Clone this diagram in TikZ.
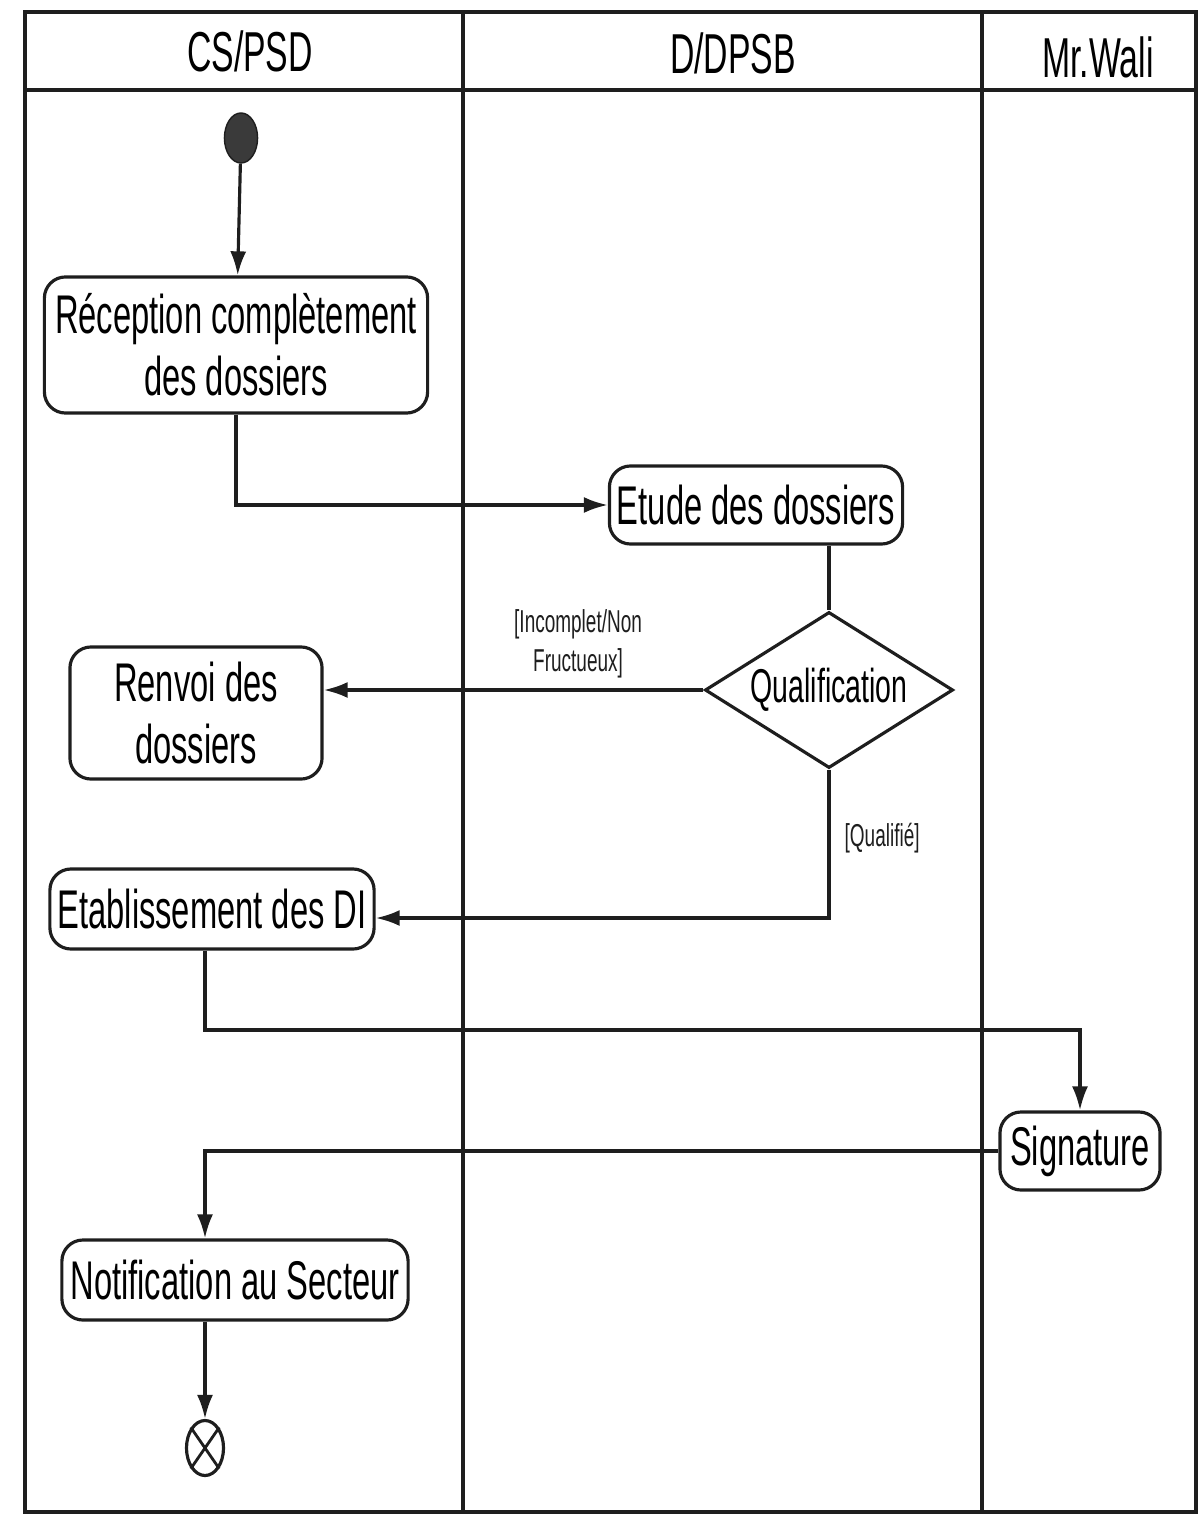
\documentclass[tikz,border=0pt]{standalone}
\usepackage{fontspec}
\setmainfont[FakeStretch=0.6]{Liberation Sans}
\usepackage{tikz}
\usetikzlibrary{shapes,arrows.meta,calc}
\definecolor{encre}{HTML}{1E1E1E}
\definecolor{puce}{HTML}{3A3A3A}
\tikzset{act/.style={
    draw=encre,
    line width=0.9pt,
    rounded corners=6pt,
    inner sep=0pt,
    align=center,
    font=\fontsize{15.5}{17.6}\selectfont}}
\tikzset{choix/.style={
    draw=encre,
    line width=0.9pt,
    diamond,
    aspect=1.59,
    inner sep=0pt,
    font=\fontsize{13.5}{17}\selectfont}}
\tikzset{flow/.style={
    -{Latex[length=2.4mm,width=1.6mm]},
    line width=0.9pt,
    encre}}
\tikzset{lane/.style={
    line width=1.1pt,
    encre}}
\tikzset{head/.style={
    font=\fontsize{16}{18}\selectfont}}
\tikzset{garde/.style={
    align=center,
    inner sep=1pt,
    font=\fontsize{9}{11}\selectfont}}

\begin{document}
\begin{tikzpicture}[x=0.01cm, y=-0.01cm]

\useasboundingbox (0,0) rectangle (1202,1516);

\coordinate (S) at (241,138);
\coordinate (R) at (236,345);
\coordinate (E) at (756,505);
\coordinate (Q) at (829,690);
\coordinate (V) at (196,713);
\coordinate (D) at (212,909);
\coordinate (G) at (1080,1151);
\coordinate (N) at (235,1280);
\coordinate (F) at (205,1448);
\coordinate (J) at (0,1030);

\draw[lane] (25,12) rectangle (1196,1512);
\draw[lane] (25,90) -- (1196,90);
\draw[lane] (463,12) -- (463,1512);
\draw[lane] (982,12) -- (982,1512);

\node[head] (cs) at (250,51) {CS/PSD};
\node[head] (dpsb) at (733,53) {D/DPSB};
\node[head] (wali) at (1098,57) {Mr.Wali};

\node[ellipse,
  fill=puce,
  draw=encre,
  minimum width=0.31cm,
  minimum height=0.5cm] (debut) at (S) {};

\node[act,
  minimum width=3.83cm,
  minimum height=1.36cm] (recep) at (R) {Réception complètement\\des dossiers};

\node[act,
  minimum width=2.93cm,
  minimum height=0.78cm] (etude) at (E) {Etude des dossiers};

\node[choix,
  minimum width=2.48cm,
  minimum height=1.56cm] (qualif) at (Q) {Qualification};

\node[act,
  minimum width=2.52cm,
  minimum height=1.32cm] (renvoi) at (V) {Renvoi des\\dossiers};

\node[act,
  minimum width=3.24cm,
  minimum height=0.8cm] (etab) at (D) {Etablissement des DI};

\node[act,
  minimum width=1.6cm,
  minimum height=0.78cm] (sign) at (G) {Signature};

\node[act,
  minimum width=3.46cm,
  minimum height=0.8cm] (notif) at (N) {Notification au Secteur};

\node[ellipse,
  draw=encre,
  line width=0.9pt,
  minimum width=0.37cm,
  minimum height=0.55cm] (fin) at (F) {};
\draw[encre, line width=0.8pt] (fin.north west) -- (fin.south east)
  (fin.north east) -- (fin.south west);

\draw[flow] (debut) -- (recep);
\draw[flow] (recep.south) |- (etude.west);
\draw[line width=0.9pt, encre] (qualif.north |- etude.south) -- (qualif.north);
\draw[flow] (qualif.west) -- node[garde, above=2pt, pos=0.33] {[Incomplet/Non\\Fructueux]} (renvoi.east |- qualif.west);
\draw[flow] (qualif.south) |- node[garde, right=3pt, pos=0.23] {[Qualifié]} ([yshift=-0.09cm]etab.east);
\draw[flow] (fin |- etab.south) -- (fin |- J) -| (sign.north);
\draw[flow] (sign.west) -| (fin |- notif.north);
\draw[flow] (fin |- notif.south) -- (fin.north);

\end{tikzpicture}
\end{document}
